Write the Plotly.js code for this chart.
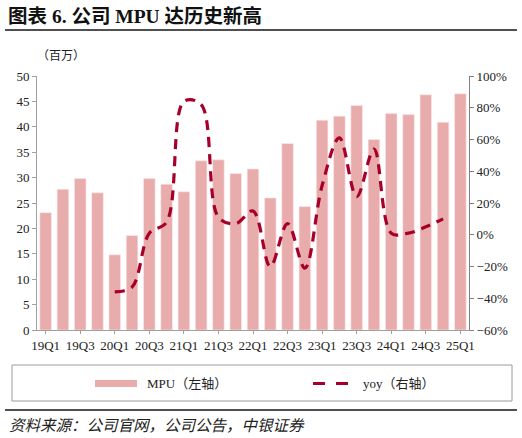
<!DOCTYPE html>
<html><head><meta charset="utf-8">
<script src="https://cdn.plot.ly/plotly-3.0.1.min.js"></script>
<style>html,body{margin:0;padding:0;background:#fff;}#chart{width:522px;height:438px;}</style>
</head><body><div id="chart"></div>
<script>
const quarters = ["19Q1","19Q2","19Q3","19Q4","20Q1","20Q2","20Q3","20Q4","21Q1","21Q2","21Q3","21Q4","22Q1","22Q2","22Q3","22Q4","23Q1","23Q2","23Q3","23Q4","24Q1","24Q2","24Q3","24Q4","25Q1"];
const mpu = [23.1,27.7,29.8,27.0,14.8,18.6,29.8,28.7,27.2,33.3,33.5,30.8,31.7,26.0,36.7,24.3,41.3,42.1,44.2,37.5,42.6,42.4,46.3,40.9,46.5];
const yoy = [null,null,null,null,-36,-33,1,8,84,82,11,7,15,-20,7,-21,31,61,24,54,1,1,5,10,null];
const xTickLabels = ["19Q1","19Q3","20Q1","20Q3","21Q1","21Q3","22Q1","22Q3","23Q1","23Q3","24Q1","24Q3","25Q1"];

const L=37, R=469, T=76, B=330;
const px = x => (x-L)/(R-L);
const py = y => (B-y)/(B-T);
const barColor = "#E8ACAC";
const lineColor = "#A6002A";
const serif = "Liberation Serif, Noto Sans CJK SC, serif";
const cjk = "Noto Sans CJK SC, sans-serif";

const traces = [
  {type:"bar", x:quarters, y:mpu, marker:{color:barColor, line:{color:"#fbeaea", width:0.6}}, name:"MPU（左轴）", hoverinfo:"skip"},
  {type:"scatter", mode:"lines", x:quarters, y:yoy, yaxis:"y2", connectgaps:false,
   line:{color:lineColor, width:3.2, dash:"10px,7px", shape:"spline", smoothing:1}, name:"yoy（右轴）", hoverinfo:"skip"}
];

const layout = {
  width:522, height:438,
  margin:{l:L, r:522-R, t:T, b:438-B},
  paper_bgcolor:"#fff", plot_bgcolor:"#fff",
  showlegend:false, bargap:0.33,
  font:{family:serif, size:13, color:"#222"},
  xaxis:{type:"category", range:[-0.5,24.5], tickmode:"array", tickvals:xTickLabels, ticktext:xTickLabels, tickangle:0,
         showline:true, linecolor:"#a0a0a0", linewidth:1, ticks:"outside", ticklen:3, tickcolor:"#a0a0a0",
         tickfont:{family:serif, size:13, color:"#222"}, showgrid:false, zeroline:false, fixedrange:true},
  yaxis:{range:[0,50], dtick:5, showline:true, linecolor:"#a0a0a0", ticks:"outside", ticklen:4, tickcolor:"#a0a0a0",
         tickfont:{family:serif, size:13, color:"#222"}, showgrid:false, zeroline:false},
  yaxis2:{overlaying:"y", side:"right", range:[-60,100], dtick:20, ticksuffix:"%", showline:true, linecolor:"#808080",
         ticks:"outside", ticklen:4, tickcolor:"#808080", tickfont:{family:serif, size:13, color:"#222"},
         showgrid:false, zeroline:false},
  shapes:[
    {type:"line", xref:"paper", yref:"paper", x0:px(5), x1:px(517), y0:py(30), y1:py(30), line:{color:"#505050", width:1.8}},
    {type:"line", xref:"paper", yref:"paper", x0:px(5), x1:px(517), y0:py(410), y1:py(410), line:{color:"#505050", width:1.8}},
    {type:"rect", xref:"paper", yref:"paper", x0:px(12), x1:px(512), y0:py(365), y1:py(401), line:{color:"#9a9a9a", width:1}},
    {type:"rect", xref:"paper", yref:"paper", x0:px(95), x1:px(137), y0:py(380), y1:py(387), fillcolor:barColor, line:{width:0}},
    {type:"line", xref:"paper", yref:"paper", x0:px(313), x1:px(349), y0:py(383.5), y1:py(383.5), line:{color:lineColor, width:3.2, dash:"12px,11px"}}
  ],
  annotations:[
    {xref:"paper", yref:"paper", x:px(6), y:py(16), xanchor:"left", yanchor:"middle", showarrow:false,
     text:"<b>图表 6. 公司 MPU 达历史新高</b>", font:{family:serif, size:19.5, color:"#111"}},
    {xref:"paper", yref:"paper", x:px(35), y:py(55), xanchor:"left", yanchor:"middle", showarrow:false,
     text:"（百万）", font:{family:cjk, size:12, color:"#222"}},
    {xref:"paper", yref:"paper", x:px(145), y:py(383), xanchor:"left", yanchor:"middle", showarrow:false,
     text:"MPU（左轴）", font:{family:serif, size:13, color:"#222"}},
    {xref:"paper", yref:"paper", x:px(361), y:py(383), xanchor:"left", yanchor:"middle", showarrow:false,
     text:"yoy（右轴）", font:{family:serif, size:13, color:"#222"}},
    {xref:"paper", yref:"paper", x:px(7), y:py(424), xanchor:"left", yanchor:"middle", showarrow:false,
     text:"<i>资料来源：公司官网，公司公告，中银证券</i>", font:{family:cjk, size:15.5, color:"#222"}}
  ]
};
Plotly.newPlot("chart", traces, layout, {staticPlot:true, displayModeBar:false});
</script></body></html>
